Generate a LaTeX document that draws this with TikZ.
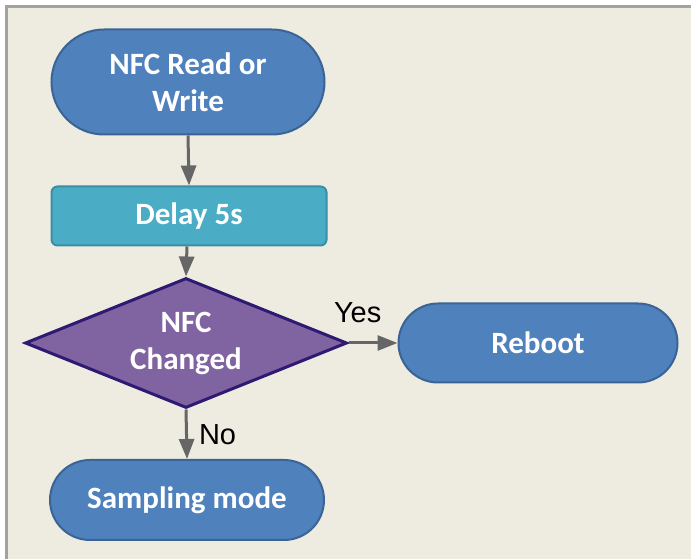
\documentclass[tikz,border=0pt]{standalone}
\usepackage{fontspec}
\usepackage{xcolor}
\usepackage{tikz}
\usetikzlibrary{calc, arrows.meta, shapes, positioning}
\newfontfamily\boxfont{Carlito}
\newfontfamily\labelfont{Liberation Sans}
\definecolor{paper}{HTML}{EEEBE0}
\definecolor{frameline}{HTML}{A3A39C}
\definecolor{termfill}{HTML}{4F81BD}
\definecolor{termline}{HTML}{3A6396}
\definecolor{delayfill}{HTML}{4BACC6}
\definecolor{delayline}{HTML}{3A8EA6}
\definecolor{decfill}{HTML}{8064A2}
\definecolor{decline}{HTML}{2E1A72}
\definecolor{arrowgray}{HTML}{666666}
\tikzset{
    termnode/.style = {draw=termline, fill=termfill, rounded rectangle, line width=2pt,
      inner sep=0pt, node distance=0em, text=white, font=\boxfont\bfseries\fontsize{31}{37}\selectfont},
    delaynode/.style = {draw=delayline, fill=delayfill, rectangle, rounded corners=6pt, line width=2pt,
      inner sep=0pt, node distance=0em, text=white, font=\boxfont\bfseries\fontsize{31}{37}\selectfont},
    decnode/.style = {draw=decline, fill=decfill, diamond, aspect=2.48, line width=3pt,
      inner sep=0pt, node distance=0em, text=white, font=\boxfont\bfseries\fontsize{31}{37}\selectfont},
    textnode/.style = {draw=none, fill=none, rectangle, inner sep=0em, node distance=0em,
      text=black, font=\labelfont\fontsize{29}{34}\selectfont},
    connect/.style = {arrowgray, line width=3pt, -{Triangle[length=20pt,width=15pt]}},
    every text node part/.style={align=center}
}
\begin{document}
\begin{tikzpicture}[x=1pt, y=1pt]
\useasboundingbox (0,0) rectangle (691,559);
\fill[white] (0,0) rectangle (691,559);
\fill[paper] (6,0) rectangle (691,552);
\draw[frameline, line width=3pt] (6,0) -- (6,552) -- (691,552);
\node[termnode, name=nfc, minimum width=273pt, minimum height=105pt] at (188,477) {NFC Read or\\Write};
\node[delaynode, name=delay, below of = nfc, xshift=1pt, yshift=-134pt, minimum width=275pt, minimum height=59pt] {Delay 5s};
\node[decnode, name=change, below of = delay, xshift=-3pt, yshift=-127pt, minimum width=322pt, minimum height=130pt] {NFC\\Changed};
\node[termnode, name=reboot, right of = change, xshift=352pt, minimum width=279pt, minimum height=79pt] {Reboot};
\node[termnode, name=sample, below of = change, xshift=1pt, yshift=-157pt, minimum width=274pt, minimum height=80pt] {Sampling mode};
\draw (nfc.south) edge[connect] (delay.north);
\draw ($(delay.south)+(-2pt,0)$) edge[connect] (change.north);
\draw (change.east) edge[connect] node[textnode, pos=0, anchor=south west, xshift=-16pt, yshift=19pt] {Yes} (reboot.west);
\draw (change.south) edge[connect] node[textnode, anchor=west, xshift=11pt] {No} (sample.north);
\end{tikzpicture}
\end{document}
